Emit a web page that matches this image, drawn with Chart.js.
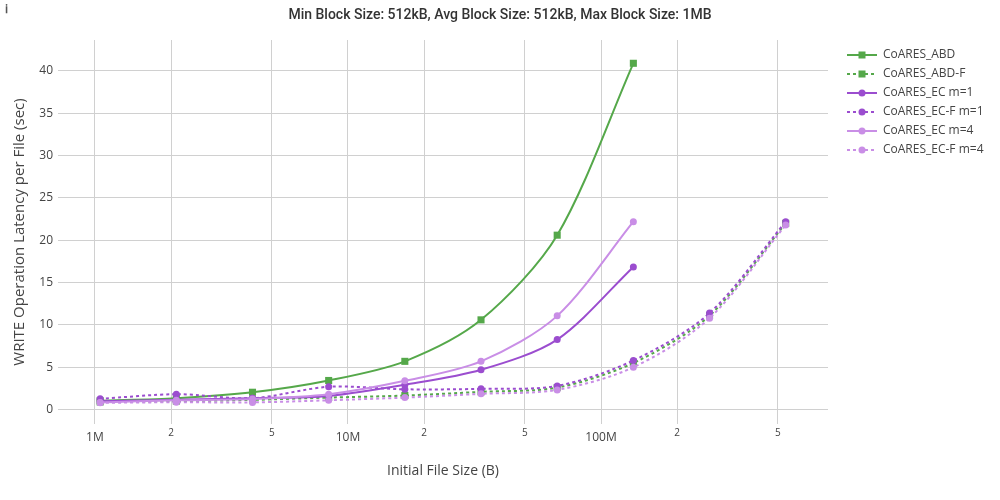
<!DOCTYPE html>
<html>
<head>
<meta charset="utf-8">
<script src="https://cdn.jsdelivr.net/npm/chart.js@4.4.1/dist/chart.umd.min.js"></script>
<style>
  body { margin: 0; background: #fff; }
  #wrap { position: relative; width: 1000px; height: 500px; }
  #info { position: absolute; left: 5px; top: 0px; font: bold 12px "DejaVu Serif", serif; color: #555; }
</style>
</head>
<body>
<div id="wrap">
  <canvas id="chart" width="1000" height="500"></canvas>
  <span id="info">ℹ</span>
</div>
<script>
  // file sizes in bytes (1MB .. 512MB)
  const fileSizes = [1048576, 2097152, 4194304, 8388608, 16777216, 33554432, 67108864, 134217728, 268435456, 536870912];

  // write latency per file (sec)
  const abd   = [1.05, 1.35, 2.05, 3.44, 5.7, 10.6, 20.6, 40.9];
  const abdF  = [0.9, 1.0, 1.15, 1.42, 1.66, 2.1, 2.6, 5.5, 11.1, 22.0];
  const ec1   = [1.0, 1.15, 1.35, 1.62, 2.93, 4.7, 8.27, 16.85];
  const ecF1  = [1.27, 1.82, 1.35, 2.7, 2.4, 2.45, 2.8, 5.8, 11.4, 22.2];
  const ec4   = [0.85, 1.1, 1.25, 1.82, 3.4, 5.7, 11.07, 22.2];
  const ecF4  = [0.8, 0.87, 0.85, 1.1, 1.42, 1.86, 2.33, 5.0, 10.8, 21.8];

  const seriesNames = ['CoARES_ABD', 'CoARES_ABD-F', 'CoARES_EC m=1', 'CoARES_EC-F m=1', 'CoARES_EC m=4', 'CoARES_EC-F m=4'];

  const xTickValues = [1e6, 2e6, 5e6, 1e7, 2e7, 5e7, 1e8, 2e8, 5e8];
  const xTickLabels = ['1M', '2', '5', '10M', '2', '5', '100M', '2', '5'];
  const yTickValues = [0, 5, 10, 15, 20, 25, 30, 35, 40];

  const GREEN = '#55a84a';
  const PURPLE = '#9b4dcf';
  const LILAC = '#c98ee6';

  const styles = [
    { color: GREEN, dashed: false, square: true },
    { color: GREEN, dashed: true, square: true },
    { color: PURPLE, dashed: false, square: false },
    { color: PURPLE, dashed: true, square: false },
    { color: LILAC, dashed: false, square: false },
    { color: LILAC, dashed: true, square: false }
  ];
  const values = [abd, abdF, ec1, ecF1, ec4, ecF4];

  function legendIcon(st) {
    const c = document.createElement('canvas');
    c.width = 42; c.height = 10;
    const g = c.getContext('2d');
    g.strokeStyle = st.color;
    g.lineWidth = 2;
    if (st.dashed) g.setLineDash([3, 3]);
    g.beginPath(); g.moveTo(12, 5); g.lineTo(42, 5); g.stroke();
    g.fillStyle = st.color;
    if (st.square) {
      g.fillRect(23.5, 1.5, 7, 7);
    } else {
      g.beginPath(); g.arc(27, 5, 3.5, 0, Math.PI * 2); g.fill();
    }
    return c;
  }

  const datasets = values.map((vals, i) => {
    const st = styles[i];
    return {
      label: seriesNames[i],
      data: vals.map((v, k) => ({ x: fileSizes[k], y: v })),
      borderColor: st.color,
      backgroundColor: st.color,
      borderWidth: 2,
      borderDash: st.dashed ? [3, 3] : [],
      pointStyle: st.square ? 'rect' : 'circle',
      pointRadius: st.square ? 5 : 3.5,
      pointHoverRadius: st.square ? 5 : 3.5,
      pointBorderWidth: 0,
      pointBackgroundColor: st.color,
      tension: 0.3,
      order: values.length - 1 - i,
      fill: false
    };
  });

  const fixLegend = {
    id: 'fixLegend',
    afterInit(chart) {
      const lg = chart.legend;
      const orig = lg.fit.bind(lg);
      lg.fit = function () { orig(); this.width = 172; };
    }
  };

  new Chart(document.getElementById('chart'), {
    type: 'line',
    data: { datasets },
    plugins: [fixLegend],
    options: {
      responsive: false,
      animation: false,
      layout: { padding: 0 },
      plugins: {
        tooltip: { enabled: false },
        title: {
          display: true,
          text: 'Min Block Size: 512kB, Avg Block Size: 512kB, Max Block Size: 1MB',
          color: '#333',
          font: { family: 'Roboto', size: 14, weight: '500', lineHeight: 1.2 },
          padding: { top: 7.5, bottom: 15.7 }
        },
        legend: {
          position: 'right',
          align: 'start',
          fullSize: false,
          title: { display: true, text: ' ', font: { size: 2, lineHeight: 1 }, padding: 0 },
          labels: {
            usePointStyle: true,
            pointStyleWidth: 42,
            padding: 7,
            color: '#444',
            font: { family: 'Open Sans', size: 12, lineHeight: 10 / 12 },
            generateLabels: (chart) => chart.data.datasets.map((ds, i) => ({
              text: ds.label,
              datasetIndex: i,
              pointStyle: legendIcon(styles[i]),
              fillStyle: styles[i].color,
              strokeStyle: styles[i].color,
              lineWidth: 0,
              hidden: !chart.isDatasetVisible(i),
              fontColor: '#444'
            }))
          }
        }
      },
      scales: {
        x: {
          type: 'logarithmic',
          min: 714500,
          max: 788900000,
          afterFit: (s) => { s.height = 76; },
          afterBuildTicks: (s) => { s.ticks = xTickValues.map(v => ({ value: v })); },
          border: { display: false },
          grid: { color: '#d0d0d0', lineWidth: 1, drawTicks: false },
          ticks: {
            padding: 6,
            color: '#444',
            autoSkip: false,
            maxRotation: 0,
            font: (ctx) => {
              const major = ctx.index % 3 === 0;
              return major
                ? { family: 'Open Sans', size: 12 }
                : { family: 'Open Sans', size: 10, lineHeight: 0.6 };
            },
            callback: (v, i) => xTickLabels[i]
          },
          title: {
            display: true,
            text: 'Initial File Size (B)',
            color: '#444',
            font: { family: 'Open Sans', size: 14, lineHeight: 1.2 },
            padding: { bottom: 21 }
          }
        },
        y: {
          type: 'linear',
          min: -1.7,
          max: 43.65,
          afterFit: (s) => { s.width = 58; },
          afterBuildTicks: (s) => { s.ticks = yTickValues.map(v => ({ value: v })); },
          border: { display: false },
          grid: { color: '#d0d0d0', lineWidth: 1, drawTicks: false },
          ticks: {
            padding: 5,
            color: '#444',
            font: { family: 'Open Sans', size: 12 },
            callback: (v) => String(v)
          },
          title: {
            display: true,
            text: 'WRITE Operation Latency per File (sec)',
            color: '#444',
            font: { family: 'Open Sans', size: 15, lineHeight: 1.2 },
            padding: { top: 11 }
          }
        }
      }
    }
  });
</script>
</body>
</html>
